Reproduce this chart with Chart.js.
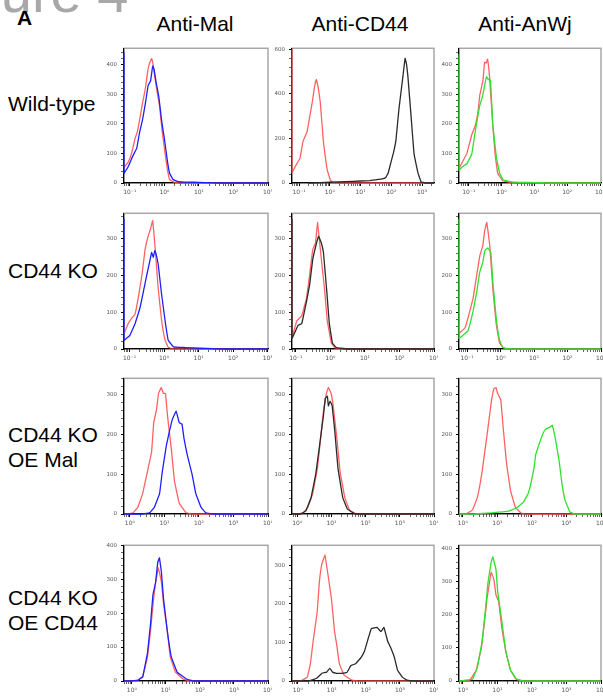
<!DOCTYPE html>
<html>
<head>
<meta charset="utf-8">
<script src="https://cdn.jsdelivr.net/npm/chart.js@4.4.0/dist/chart.umd.min.js"></script>
<style>
    body { margin: 0; background: #fff; }
    #fig { position: relative; width: 603px; height: 699px; overflow: hidden; font-family: "Liberation Sans", Arial, sans-serif; }
    .lbl { position: absolute; font-size: 21px; line-height: 25px; color: #000; white-space: nowrap; }
    .title { text-align: center; width: 130px; }
    .panel { position: absolute; }
</style>
</head>
<body>
<div id="fig">
    <div class="lbl" style="left:-77px;top:-35px;font-size:56px;line-height:56px;color:#a8a8a8;">Figure 4</div>
    <div class="lbl" style="left:17px;top:5px;font-weight:bold;">A</div>
    <div class="lbl title" style="left:130px;top:11px;">Anti-Mal</div>
    <div class="lbl title" style="left:295px;top:11px;">Anti-CD44</div>
    <div class="lbl title" style="left:460px;top:11px;">Anti-AnWj</div>
    <div class="lbl" style="left:8px;top:91px;">Wild-type</div>
    <div class="lbl" style="left:8px;top:258px;">CD44 KO</div>
    <div class="lbl" style="left:8px;top:422px;">CD44 KO<br>OE Mal</div>
    <div class="lbl" style="left:8px;top:585px;">CD44 KO<br>OE CD44</div>
</div>
<script>
// histogram points: [log10 fluorescence, cell count]
// Wild-type
const wtMalIso = [[-1.17,52],[-1.05,70],[-0.95,100],[-0.85,150],[-0.78,175],[-0.7,225],[-0.63,272],[-0.55,320],[-0.48,380],[-0.43,405],[-0.4,412],[-0.37,420],[-0.34,408],[-0.28,360],[-0.2,300],[-0.14,260],[-0.07,180],[0.01,108],[0.08,50],[0.15,12],[0.25,4],[0.4,1],[0.6,0],[3.0,0]];
const wtMalStain = [[-1.17,440],[-1.17,33],[-1.05,55],[-0.92,90],[-0.8,118],[-0.72,170],[-0.63,216],[-0.55,270],[-0.47,330],[-0.4,345],[-0.34,395],[-0.3,385],[-0.24,340],[-0.16,290],[-0.08,210],[0.01,141],[0.08,80],[0.15,33],[0.25,12],[0.4,5],[0.7,3],[1.0,2],[1.3,1],[1.6,0],[3.0,0]];
const wtCd44Iso = [[-1.23,600],[-1.23,47],[-1.1,80],[-0.97,112],[-0.87,188],[-0.74,230],[-0.65,300],[-0.57,363],[-0.5,430],[-0.44,465],[-0.38,430],[-0.31,363],[-0.21,188],[-0.14,110],[-0.08,57],[0.02,12],[0.11,2],[0.3,0],[3.39,0]];
const wtCd44Stain = [[-0.7,0],[-0.3,2],[0,4],[0.5,6],[1.0,9],[1.3,11],[1.5,14],[1.7,18],[1.82,25],[1.9,45],[1.98,88],[2.07,135],[2.15,190],[2.25,333],[2.38,480],[2.45,560],[2.5,530],[2.54,480],[2.64,307],[2.74,131],[2.87,44],[2.97,5],[3.1,0],[3.39,0]];
const wtAnwjIso = [[-1.3,50],[-1.2,70],[-1.06,100],[-0.91,163],[-0.8,195],[-0.72,240],[-0.67,294],[-0.57,346],[-0.52,408],[-0.47,405],[-0.43,418],[-0.37,360],[-0.27,196],[-0.2,98],[-0.12,33],[0.03,8],[0.25,2],[0.5,0],[3.03,0]];
const wtAnwjStain = [[-1.3,435],[-1.3,43],[-1.2,55],[-1.06,65],[-0.91,98],[-0.82,163],[-0.72,230],[-0.67,261],[-0.58,294],[-0.5,340],[-0.46,359],[-0.41,350],[-0.34,348],[-0.27,196],[-0.16,87],[-0.06,33],[0.05,10],[0.35,3],[0.8,2],[1.2,1],[1.5,0],[3.03,0]];
// CD44 KO
const koMalIso = [[-1.16,42],[-1.04,69],[-0.93,85],[-0.84,95],[-0.75,138],[-0.64,202],[-0.55,271],[-0.46,308],[-0.4,325],[-0.33,350],[-0.28,300],[-0.24,254],[-0.17,165],[-0.07,77],[0.03,24],[0.12,5],[0.25,0],[3.01,0]];
const koMalStain = [[-1.16,355],[-1.16,24],[-0.99,37],[-0.84,69],[-0.7,111],[-0.6,156],[-0.5,202],[-0.41,241],[-0.36,263],[-0.31,250],[-0.27,268],[-0.24,262],[-0.17,231],[-0.07,148],[0.03,77],[0.12,24],[0.27,6],[0.6,4],[1.04,2],[1.4,1],[1.7,0],[3.01,0]];
const koCd44Iso = [[-1.11,355],[-1.11,32],[-0.97,77],[-0.83,90],[-0.69,138],[-0.6,202],[-0.51,271],[-0.43,289],[-0.37,345],[-0.32,300],[-0.26,244],[-0.17,165],[-0.09,77],[0.03,16],[0.14,3],[0.3,0],[3.0,0]];
const koCd44Stain = [[-1.11,355],[-1.11,29],[-0.94,64],[-0.83,69],[-0.69,130],[-0.6,175],[-0.51,244],[-0.4,289],[-0.34,308],[-0.26,289],[-0.2,263],[-0.11,165],[-0.03,69],[0.06,16],[0.17,4],[0.3,2],[0.5,0],[3.0,0]];
const koAnwjIso = [[-1.24,42],[-1.06,58],[-0.97,85],[-0.82,138],[-0.71,202],[-0.62,254],[-0.53,281],[-0.47,324],[-0.41,345],[-0.32,281],[-0.23,165],[-0.13,69],[-0.03,16],[0.09,3],[0.2,0],[3.0,0]];
const koAnwjStain = [[-1.24,355],[-1.24,29],[-1.06,42],[-0.97,50],[-0.82,103],[-0.71,156],[-0.62,210],[-0.53,236],[-0.47,268],[-0.38,276],[-0.29,263],[-0.23,183],[-0.13,85],[-0.03,24],[0.06,5],[0.2,0],[3.0,0]];
// CD44 KO OE Mal
const oeMalMalIso = [[-0.17,0],[-0.1,0],[0.09,3],[0.23,17],[0.37,51],[0.51,107],[0.63,156],[0.69,229],[0.77,261],[0.83,302],[0.91,317],[0.97,302],[1.03,302],[1.09,246],[1.2,163],[1.29,83],[1.43,27],[1.63,3],[1.8,0],[4.0,0]];
const oeMalMalStain = [[-0.17,0],[0.37,0],[0.57,3],[0.71,17],[0.86,51],[0.94,107],[1.06,173],[1.14,205],[1.23,237],[1.34,258],[1.43,229],[1.51,225],[1.57,188],[1.66,149],[1.8,100],[1.91,51],[2.06,17],[2.2,3],[2.37,0],[4.0,0]];
const oeMalCd44Iso = [[-0.14,0],[0.03,0],[0.17,3],[0.31,17],[0.45,51],[0.59,115],[0.68,188],[0.77,261],[0.85,302],[0.91,317],[0.99,302],[1.05,271],[1.16,188],[1.25,107],[1.39,41],[1.53,10],[1.73,0],[4.0,0]];
const oeMalCd44Stain = [[-0.14,0],[0.1,0],[0.25,8],[0.4,40],[0.54,100],[0.68,190],[0.77,250],[0.82,290],[0.88,295],[0.91,271],[0.96,283],[1.02,271],[1.1,205],[1.19,115],[1.33,41],[1.47,12],[1.7,0],[4.0,0]];
const oeMalAnwjIso = [[-0.11,0],[0.1,0],[0.28,10],[0.42,41],[0.56,107],[0.7,197],[0.82,278],[0.9,314],[0.96,317],[1.01,302],[1.1,286],[1.18,205],[1.27,124],[1.38,59],[1.52,17],[1.69,2],[1.85,0],[4.0,0]];
const oeMalAnwjStain = [[-0.11,0],[0.3,0],[0.85,3],[1.32,7],[1.55,15],[1.75,29],[1.89,51],[1.97,76],[2.06,115],[2.11,149],[2.23,180],[2.31,200],[2.39,212],[2.51,217],[2.59,222],[2.68,188],[2.79,132],[2.87,76],[2.96,34],[3.1,5],[3.24,0],[4.0,0]];
// CD44 KO OE CD44
const oeCd44MalIso = [[-0.23,0],[0.17,2],[0.32,14],[0.46,71],[0.55,149],[0.64,243],[0.7,291],[0.78,334],[0.87,291],[0.93,229],[1.04,149],[1.13,71],[1.28,26],[1.51,6],[1.7,0],[4.0,0]];
const oeCd44MalStain = [[-0.23,0],[0.17,2],[0.32,12],[0.46,83],[0.55,169],[0.62,254],[0.7,291],[0.76,349],[0.81,363],[0.87,320],[0.93,243],[1.04,149],[1.16,71],[1.33,26],[1.62,5],[1.8,0],[4.0,0]];
const oeCd44Cd44Iso = [[-0.17,0],[0.09,0],[0.28,10],[0.37,45],[0.45,103],[0.57,179],[0.63,254],[0.71,305],[0.8,327],[0.85,297],[0.91,262],[0.99,212],[1.08,128],[1.14,96],[1.22,45],[1.36,15],[1.59,2],[1.8,0],[4.0,0]];
const oeCd44Cd44Stain = [[-0.17,0],[0.3,0],[0.43,3],[0.57,8],[0.71,20],[0.85,23],[0.94,33],[1.02,23],[1.14,20],[1.28,20],[1.45,23],[1.56,40],[1.7,45],[1.85,60],[1.96,78],[2.07,111],[2.16,136],[2.33,139],[2.44,128],[2.53,139],[2.64,103],[2.73,86],[2.84,60],[2.93,28],[3.07,10],[3.21,2],[3.4,0],[4.0,0]];
const oeCd44AnwjIso = [[-0.11,0],[0.2,2],[0.39,33],[0.54,101],[0.62,172],[0.7,249],[0.82,329],[0.9,308],[0.96,261],[1.04,240],[1.13,160],[1.24,92],[1.38,33],[1.55,5],[1.75,0],[4.0,0]];
const oeCd44AnwjStain = [[-0.11,0],[0.28,5],[0.42,41],[0.56,121],[0.65,210],[0.73,299],[0.82,359],[0.87,376],[0.96,338],[1.01,270],[1.13,181],[1.24,92],[1.38,33],[1.55,6],[1.75,0],[4.0,0]];

// axis labels
const decades = [-1, 0, 1, 2, 3, 4];
const decadeLabels = ['10\u207B\u00B9', '10\u2070', '10\u00B9', '10\u00B2', '10\u00B3', '10\u2074'];

const RED = 'rgba(255, 70, 70, 0.85)';
const BLUE = '#1e1eff';
const BLACK = '#2a2a2a';
const GREEN = '#2fe02f';

// grid layout (plot area edges in px)
const colLeft = [124, 292, 459];
const colRight = [268, 434, 601];
const rowTop = [45, 210, 375, 542];
const rowBottom = [183, 349, 514, 681];

const panels = [
    { row: 0, col: 0, stain: wtMalStain, iso: wtMalIso, color: BLUE, x: [-1.17, 3.0], yMax: 455, yStep: 100 },
    { row: 0, col: 1, stain: wtCd44Stain, iso: wtCd44Iso, color: BLACK, x: [-1.23, 3.39], yMax: 605, yStep: 200 },
    { row: 0, col: 2, stain: wtAnwjStain, iso: wtAnwjIso, color: GREEN, x: [-1.3, 3.03], yMax: 455, yStep: 100 },
    { row: 1, col: 0, stain: koMalStain, iso: koMalIso, color: BLUE, x: [-1.16, 3.01], yMax: 370, yStep: 100 },
    { row: 1, col: 1, stain: koCd44Stain, iso: koCd44Iso, color: BLACK, x: [-1.11, 3.0], yMax: 370, yStep: 100 },
    { row: 1, col: 2, stain: koAnwjStain, iso: koAnwjIso, color: GREEN, x: [-1.24, 3.0], yMax: 370, yStep: 100 },
    { row: 2, col: 0, stain: oeMalMalStain, iso: oeMalMalIso, color: BLUE, x: [-0.17, 4.0], yMax: 340, yStep: 100 },
    { row: 2, col: 1, stain: oeMalCd44Stain, iso: oeMalCd44Iso, color: BLACK, x: [-0.14, 4.0], yMax: 340, yStep: 100 },
    { row: 2, col: 2, stain: oeMalAnwjStain, iso: oeMalAnwjIso, color: GREEN, x: [-0.11, 4.0], yMax: 340, yStep: 100 },
    { row: 3, col: 0, stain: oeCd44MalStain, iso: oeCd44MalIso, color: BLUE, x: [-0.23, 4.0], yMax: 400, yStep: 100 },
    { row: 3, col: 1, stain: oeCd44Cd44Stain, iso: oeCd44Cd44Iso, color: BLACK, x: [-0.17, 4.0], yMax: 352, yStep: 100 },
    { row: 3, col: 2, stain: oeCd44AnwjStain, iso: oeCd44AnwjIso, color: GREEN, x: [-0.11, 4.0], yMax: 411, yStep: 100 }
];

const Y_AXIS_W = 26;
const X_AXIS_H = 16;
const PAD = 4;

// grey box around each plot area, drawn under the axes
const framePlugin = {
    id: 'frame',
    beforeDraw(chart) {
        const { ctx, chartArea: a } = chart;
        ctx.save();
        ctx.strokeStyle = '#a8a8a8';
        ctx.lineWidth = 1.5;
        ctx.strokeRect(a.left, a.top, a.right - a.left, a.bottom - a.top);
        ctx.restore();
    }
};

function toPoints(series) {
    return series.map(p => ({ x: 10 ** p[0], y: p[1] }));
}

function logTicks(min, max) {
    const ticks = [];
    for (let d = Math.floor(min); d <= Math.ceil(max); d++) {
        for (let k = 1; k <= 9; k++) {
            const e = d + Math.log10(k);
            if (e >= min - 1e-6 && e <= max + 1e-6) ticks.push({ value: k * 10 ** d, major: k === 1 });
        }
    }
    return ticks;
}

function decadeLabel(value) {
    const e = Math.log10(value);
    const i = decades.indexOf(Math.round(e));
    if (Math.abs(e - Math.round(e)) > 1e-6 || i < 0) return '';
    return decadeLabels[i];
}

function buildPanel(p) {
    const left = colLeft[p.col], right = colRight[p.col];
    const top = rowTop[p.row], bottom = rowBottom[p.row];

    const canvas = document.createElement('canvas');
    canvas.className = 'panel';
    canvas.width = (right - left) + Y_AXIS_W + PAD;
    canvas.height = (bottom - top) + X_AXIS_H + PAD;
    canvas.style.left = (left - Y_AXIS_W) + 'px';
    canvas.style.top = (top - PAD) + 'px';
    document.getElementById('fig').appendChild(canvas);

    // let the pile-up at the lowest channel show over the left axis
    const clip = { left: 2, top: 0, right: 0, bottom: 1 };

    new Chart(canvas.getContext('2d'), {
        type: 'line',
        data: {
            datasets: [
                { data: toPoints(p.stain), borderColor: p.color, clip },
                { data: toPoints(p.iso), borderColor: RED, clip }
            ]
        },
        options: {
            responsive: false,
            animation: false,
            layout: { padding: { top: PAD, right: PAD, left: 0, bottom: 0 } },
            plugins: { legend: { display: false }, tooltip: { enabled: false } },
            elements: {
                point: { radius: 0 },
                line: { borderWidth: 1.3, tension: 0.05, fill: false }
            },
            scales: {
                x: {
                    type: 'logarithmic',
                    min: 10 ** p.x[0],
                    max: 10 ** p.x[1],
                    afterBuildTicks: s => { s.ticks = logTicks(p.x[0], p.x[1]); },
                    afterFit: s => { s.height = X_AXIS_H; s.paddingLeft = 0; s.paddingRight = 0; },
                    ticks: {
                        autoSkip: false, maxRotation: 0, padding: 3,
                        font: { size: 6, family: 'DejaVu Sans' }, color: '#555',
                        callback: v => decadeLabel(v)
                    },
                    grid: {
                        drawOnChartArea: false, tickLength: 3, tickColor: '#000',
                        tickWidth: ctx => (ctx.tick && ctx.tick.major ? 1 : 0.6)
                    },
                    border: { color: '#000', width: 1.2 }
                },
                y: {
                    min: 0,
                    max: p.yMax,
                    afterBuildTicks: s => {
                        const ticks = [];
                        const minor = p.yStep / 5;
                        for (let v = 0; v <= p.yMax; v += minor) ticks.push({ value: v });
                        s.ticks = ticks;
                    },
                    afterFit: s => { s.width = Y_AXIS_W; },
                    ticks: {
                        autoSkip: false, padding: 4,
                        font: { size: 5.5, family: 'DejaVu Sans' }, color: '#555',
                        callback: v => (Math.round(v) % p.yStep === 0 ? String(Math.round(v)) : '')
                    },
                    grid: {
                        drawOnChartArea: false, tickLength: 3, tickColor: '#000',
                        tickWidth: ctx => (ctx.tick && Math.round(ctx.tick.value) % p.yStep === 0 ? 1 : 0.6)
                    },
                    border: { color: '#000', width: 1.2 }
                }
            }
        },
        plugins: [framePlugin]
    });
}

window.addEventListener('load', () => {
    panels.forEach(buildPanel);
});
</script>
</body>
</html>
